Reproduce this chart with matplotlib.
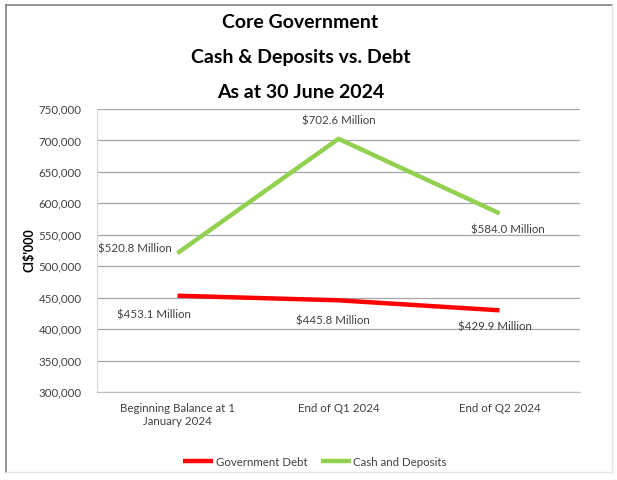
import matplotlib.pyplot as plt
from matplotlib.lines import Line2D
from matplotlib.ticker import FuncFormatter

categories = ["Beginning Balance at 1\nJanuary 2024", "End of Q1 2024", "End of Q2 2024"]
debt = [453100, 445800, 429900]
cash = [520800, 702600, 584000]
debt_labels = ["$453.1 Million", "$445.8 Million", "$429.9 Million"]
cash_labels = ["$520.8 Million", "$702.6 Million", "$584.0 Million"]

plt.rcParams["font.family"] = ["Lato", "DejaVu Sans"]

fig = plt.figure(figsize=(6.17, 4.8), dpi=100)
ax = fig.add_axes([97 / 617, 1 - 392 / 480, (580 - 97) / 617, (392 - 109) / 480])

x = range(len(categories))
ax.plot(x, debt, color="#ff0000", lw=3.2, solid_capstyle="butt", label="Government Debt", zorder=3)
ax.plot(x, cash, color="#92d050", lw=3.2, solid_capstyle="butt", label="Cash and Deposits", zorder=3)

ax.set_xlim(-0.5, 2.5)
ax.set_ylim(300000, 750000)
ax.set_yticks(range(300000, 750001, 50000))
ax.yaxis.set_major_formatter(FuncFormatter(lambda v, p: f"{int(v):,}"))
ax.set_xticks(list(x))
ax.set_xticklabels(categories, fontsize=8.3, color="#404040")
ax.tick_params(axis="y", labelsize=8.3, labelcolor="#404040", length=0, pad=11)
ax.tick_params(axis="x", length=0, pad=8)
ax.grid(axis="y", color="#a6a6a6", lw=0.9)
for side in ["top", "right"]:
    ax.spines[side].set_visible(False)
ax.spines["left"].set_color("#d9d9d9")
ax.spines["bottom"].set_color("#bfbfbf")

ax.set_ylabel("CI$'000", fontsize=9, fontweight="bold", labelpad=2)

# value labels on each point
label_offsets_debt = [(-17, -14), (-4, -15), (-3, -12)]
label_offsets_cash = [(-4, 3, "right", "center"), (0, 13, "center", "center"), (6, -12, "center", "center")]
for i, (v, t) in enumerate(zip(debt, debt_labels)):
    dx, dy = label_offsets_debt[i]
    ax.annotate(t, (i, v), xytext=(dx, dy), textcoords="offset points",
                ha="center", va="center", fontsize=8.3, color="#404040")
for i, (v, t) in enumerate(zip(cash, cash_labels)):
    dx, dy, ha, va = label_offsets_cash[i]
    ax.annotate(t, (i, v), xytext=(dx, dy), textcoords="offset points",
                ha=ha, va=va, fontsize=8.3, color="#404040")

fig.text(0.487, 1 - 22 / 480, "Core Government", ha="center", va="center", fontsize=14, fontweight="bold")
fig.text(0.487, 1 - 57 / 480, "Cash & Deposits vs. Debt", ha="center", va="center", fontsize=14, fontweight="bold")
fig.text(0.487, 1 - 92 / 480, "As at 30 June 2024", ha="center", va="center", fontsize=14, fontweight="bold")

fig.legend(loc="center", bbox_to_anchor=(315 / 617, 1 - 462 / 480), ncol=2, frameon=False,
           fontsize=8.3, handlelength=2.6, handletextpad=0.2, columnspacing=1.2,
           labelcolor="#404040")

# chart border
fig.add_artist(Line2D([6 / 617, 6 / 617], [1 - 472 / 480, 1 - 5 / 480], color="#808080", lw=1.2))
fig.add_artist(Line2D([6 / 617, 612 / 617], [1 - 5 / 480, 1 - 5 / 480], color="#808080", lw=1.2))
fig.add_artist(Line2D([612 / 617, 612 / 617], [1 - 472 / 480, 1 - 5 / 480], color="#e6e6e6", lw=1))
fig.add_artist(Line2D([6 / 617, 612 / 617], [1 - 472 / 480, 1 - 472 / 480], color="#e6e6e6", lw=1))

fig.savefig("out.png", dpi=100)
